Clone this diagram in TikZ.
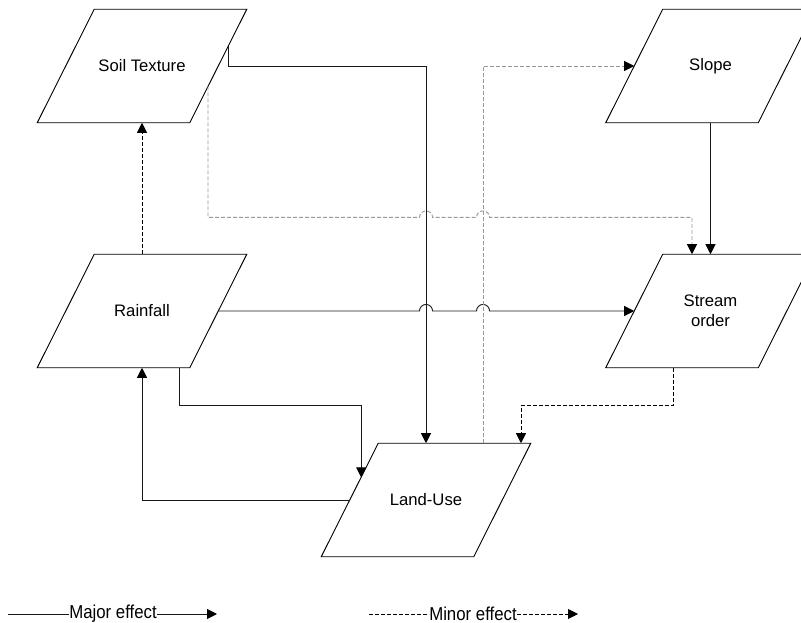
\documentclass[tikz,border=0pt]{standalone}
\usepackage{fontspec}
\setmainfont{Liberation Sans}
\usetikzlibrary{arrows.meta, calc, positioning}
\tikzset{>={Triangle[length=7.5pt,width=7.5pt,color=black]}}

\begin{document}
\begin{tikzpicture}[x=0.75pt, y=0.75pt,
  factor/.style={rectangle, minimum width=114pt, minimum height=84.75pt, inner sep=0pt,
    align=center, font=\fontsize{12.5}{15}\selectfont},
  major/.style={->, line width=0.7pt, black!90},
  minor/.style={->, line width=0.7pt, dash pattern=on 3pt off 1.5pt},
  minorgrey/.style={minor, black!40},
  legend/.style={inner sep=0pt, font=\fontsize{14}{16}\selectfont}]
\clip (0,0) rectangle (801,-623);

% factors
\node[factor] (soil) at (142,-66) {Soil Texture};
\node[factor] (slope) at (710.5,-66) {Slope};
\node[factor] (rain) at (142,-311) {Rainfall};
\node[factor] (stream) at (710.5,-311) {Stream\\order};
\node[factor] (land) at (426,-500) {Land-Use};
\foreach \f in {soil,slope,rain,stream,land}
  \draw[line width=0.7pt] ([xshift=21.375pt]\f.north west) -- ([xshift=21.375pt]\f.north east)
    -- ([xshift=-21.375pt]\f.south east) -- ([xshift=-21.375pt]\f.south west) -- cycle;

\coordinate (soilout) at ($([xshift=21.375pt]soil.north east)!0.32!([xshift=-21.375pt]soil.south east)$);
\coordinate (soilout2) at ($([xshift=21.375pt]soil.north east)!0.68!([xshift=-21.375pt]soil.south east)$);
\coordinate (rainout) at ($(rain.south)+(37,0)$);
\coordinate (landin) at ($([xshift=21.375pt]land.north west)!0.3!([xshift=-21.375pt]land.south west)$);
\coordinate (gy) at ($(soilout2)+(0,-131)$);

% major effects
\draw[major] (soilout) |- (soil.center -| land.center) -- (land.north);
\draw[major] (slope.south) -- (stream.north);
\draw[major] (rain.east) -- ($(rain.east -| land.center)+(-6.5,0)$) arc[start angle=180, end angle=0, radius=4.9pt]
  -- ($(rain.east -| land.center)+(50.5,0)$) arc[start angle=180, end angle=0, radius=4.9pt] -- (stream.west);
\draw[major] (rainout) -- ++(0,-38) -| (landin);
\draw[major] (land.west) -| (rain.south);

% minor effects
\draw[minor] (rain.north) -- (soil.south);
\draw[minor] ($(stream.south)+(-37.5,0)$) -- ++(0,-38) -| ($(land.north)+(95,0)$);
\draw[minorgrey] (soilout2) -- (gy) -- ($(gy -| land.center)+(-6.5,0)$) arc[start angle=180, end angle=0, radius=4.9pt]
  -- ($(gy -| land.center)+(50.5,0)$) arc[start angle=180, end angle=0, radius=4.9pt]
  -| ($(stream.north)+(-18.5,0)$);
\draw[minorgrey] ($(land.north)+(57,0)$) |- (slope.west);

% legend
\node[legend] (majtxt) at (113,-614) {\scalebox{0.9}[1]{Major effect}};
\coordinate (majL) at (8,-614);
\coordinate (majR) at (217,-614);
\draw[line width=0.7pt, black!90] (majL) -- (majtxt.west);
\draw[major] (majtxt.east) -- (majR);
\node[legend] (mintxt) at (473,-614) {\scalebox{0.9}[1]{Minor effect}};
\coordinate (minL) at (369,-614);
\coordinate (minR) at (578,-614);
\draw[line width=0.7pt, dash pattern=on 3pt off 1.5pt] (minL) -- (mintxt.west);
\draw[minor] (mintxt.east) -- (minR);
\end{tikzpicture}
\end{document}
